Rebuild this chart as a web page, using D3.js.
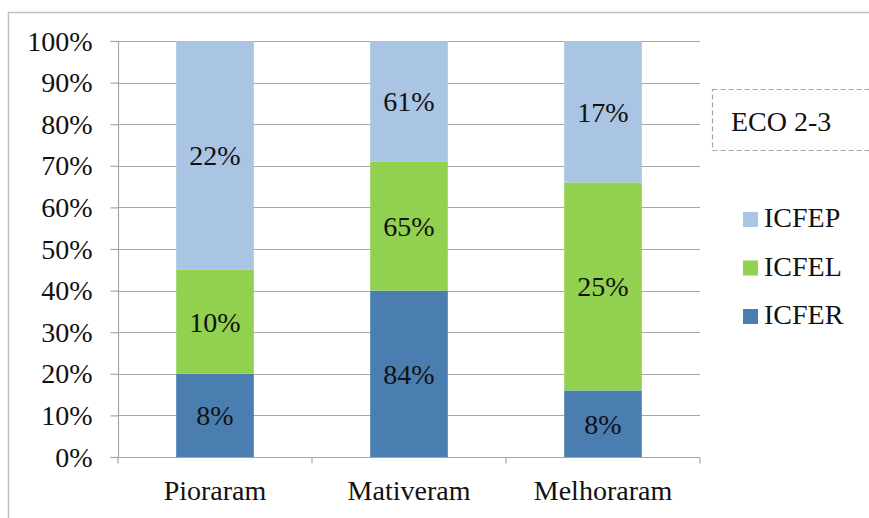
<!DOCTYPE html>
<html><head><meta charset="utf-8">
<script src="https://cdn.jsdelivr.net/npm/d3@7"></script>
</head><body style="margin:0">
<svg id="c" width="869" height="518"></svg>
<script>
const categories = ["Pioraram", "Mativeram", "Melhoraram"];
const seriesNames = ["ICFER", "ICFEL", "ICFEP"];
const ICFER = [8, 84, 8];
const ICFEL = [10, 65, 25];
const ICFEP = [22, 61, 17];
const yTicks = [0, 0.1, 0.2, 0.3, 0.4, 0.5, 0.6, 0.7, 0.8, 0.9, 1.0];
const colors = {ICFER: "#4a7db0", ICFEL: "#92d050", ICFEP: "#aac4e4"};
const legendTitle = "ECO 2-3";
const legendOrder = ["ICFEP", "ICFEL", "ICFER"];

const FF = "Times New Roman";
const FS = 28;
const svg = d3.select("#c");

svg.append("rect").attr("x", 8.5).attr("y", 12.5).attr("width", 900).attr("height", 600)
  .attr("fill", "none").attr("stroke", "#bfbfbf").attr("stroke-width", 1.5);

const rows = categories.map((c, i) => ({cat: c, ICFER: ICFER[i], ICFEL: ICFEL[i], ICFEP: ICFEP[i]}));
const layers = d3.stack().keys(seriesNames).offset(d3.stackOffsetExpand)(rows);

const x = d3.scaleBand().domain(categories).range([118, 700]).paddingInner(0.6).paddingOuter(0.3);
const y = d3.scaleLinear().domain([0, 1]).range([457, 41]);

// gridlines
svg.append("g").selectAll("line").data(yTicks.slice(1)).join("line")
  .attr("x1", 118).attr("x2", 700).attr("y1", d => Math.round(y(d)) + 0.5).attr("y2", d => Math.round(y(d)) + 0.5)
  .attr("stroke", "#a6a6a6").attr("stroke-width", 1.2);

// bars and labels
const g = svg.append("g");
layers.forEach(layer => {
  g.append("g").selectAll("rect").data(layer).join("rect")
    .attr("x", d => x(d.data.cat))
    .attr("width", x.bandwidth())
    .attr("y", d => y(d[1]))
    .attr("height", d => y(d[0]) - y(d[1]))
    .attr("fill", colors[layer.key]);
});
layers.forEach(layer => {
  g.append("g").selectAll("text").data(layer).join("text")
    .attr("x", d => x(d.data.cat) + x.bandwidth() / 2)
    .attr("y", d => (y(d[0]) + y(d[1])) / 2 + 10)
    .attr("text-anchor", "middle")
    .attr("font-family", FF).attr("font-size", FS).attr("fill", "#111")
    .text(d => d.data[layer.key] + "%");
});

// y axis
const yAxis = d3.axisLeft(y).tickValues(yTicks).tickFormat(d3.format(".0%")).tickSize(8).tickPadding(18);
const ya = svg.append("g").attr("transform", "translate(118.5,0)").call(yAxis)
  .attr("font-family", FF).attr("font-size", FS);
ya.selectAll("text").attr("font-family", FF).attr("font-size", FS).attr("fill", "#111").attr("dy", null).attr("y", 9);
ya.selectAll("line").attr("stroke", "#a6a6a6").attr("stroke-width", 1.2);
ya.select(".domain").attr("stroke", "#a6a6a6").attr("stroke-width", 1.2).attr("d", "M-8,41.5H0V457.5H-8");

// x axis
const xa = svg.append("g").attr("transform", "translate(0,457.5)");
xa.append("line").attr("x1", 118).attr("x2", 700).attr("stroke", "#a6a6a6").attr("stroke-width", 1.2);
const bounds = [118].concat(categories.map(c => x(c) + x.bandwidth() + x.step() * x.paddingInner() / 2));
bounds[bounds.length - 1] = 700;
xa.selectAll("line.t").data(bounds).join("line").attr("class", "t")
  .attr("x1", d => d).attr("x2", d => d).attr("y1", 0).attr("y2", 6)
  .attr("stroke", "#a6a6a6").attr("stroke-width", 1.2);
xa.selectAll("text").data(categories).join("text")
  .attr("x", d => x(d) + x.bandwidth() / 2).attr("y", 42)
  .attr("text-anchor", "middle").attr("font-family", FF).attr("font-size", FS).attr("fill", "#111")
  .text(d => d);

// title box
svg.append("rect").attr("x", 712.5).attr("y", 89.5).attr("width", 200).attr("height", 61)
  .attr("fill", "none").attr("stroke", "#a6a6a6").attr("stroke-dasharray", "5,3").attr("stroke-width", 1.2);
svg.append("text").attr("x", 731).attr("y", 131).attr("font-family", FF).attr("font-size", FS).attr("fill", "#111")
  .text(legendTitle);

// legend
const lg = svg.append("g").selectAll("g").data(legendOrder).join("g")
  .attr("transform", (d, i) => `translate(743,${227 + i * 48.5})`);
lg.append("rect").attr("x", 0).attr("y", -15).attr("width", 15).attr("height", 15).attr("fill", d => colors[d]);
lg.append("text").attr("x", 21).attr("y", 0)
  .attr("font-family", FF).attr("font-size", FS).attr("fill", "#111").text(d => d);
</script>
</body></html>
